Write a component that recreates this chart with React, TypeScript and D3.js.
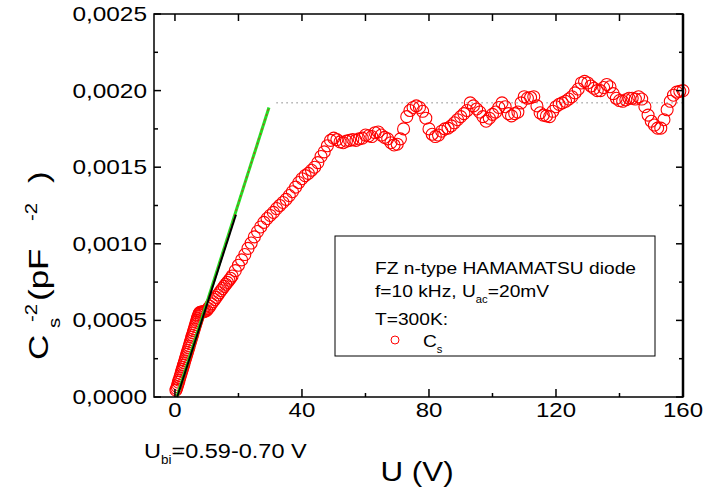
import React from "react";
import * as d3 from "d3";

// ---------- data (C_s^-2 in units of 1e-4 pF^-2, U in V) ----------
const voltage = [
  0.3, 0.5, 0.7, 0.9, 1.1, 1.3, 1.5, 1.7, 1.9, 2.1, 2.3, 2.5, 2.7, 2.9, 3.1, 3.3, 3.5, 3.7, 3.9,
  4.1, 4.3, 4.5, 4.7, 4.9, 5.1, 5.3, 5.5, 5.7, 5.9, 6.1, 6.3, 6.5, 6.7, 6.9, 7.1, 7.3, 7.5, 7.7,
  7.9, 8.3, 8.7, 9.1, 9.5,
  10, 10.5, 11, 11.5, 12, 12.5, 13, 13.5, 14, 14.5, 15, 15.5, 16, 16.5, 17, 17.5, 18,
  19, 20, 21, 22, 23, 24, 25, 26, 27, 28, 29, 30, 31, 32, 33, 34, 35, 36, 37, 38, 39, 40,
  41, 42, 43, 44, 45, 46, 47, 48, 49, 50, 51, 52, 53, 54, 55, 56, 57, 58, 59, 60,
  61, 62, 63, 64, 65, 66, 67, 68, 69, 70, 71, 72, 73, 74, 75, 76, 77, 78, 79, 80,
  81, 82, 83, 84, 85, 86, 87, 88, 89, 90, 91, 92, 93, 94, 95, 96, 97, 98, 99, 100,
  101, 102, 103, 104, 105, 106, 107, 108, 109, 110, 111, 112, 113, 114, 115, 116, 117, 118, 119, 120,
  121, 122, 123, 124, 125, 126, 127, 128, 129, 130, 131, 132, 133, 134, 135, 136, 137, 138, 139, 140,
  141, 142, 143, 144, 145, 146, 147, 148, 149, 150, 151, 152, 153, 154, 155, 156, 157, 158, 159, 160,
];
const invCapSq = [
  0.45, 0.55, 0.68, 0.82, 0.97, 1.1, 1.25, 1.38, 1.52, 1.67, 1.8, 1.94, 2.08, 2.22, 2.36, 2.5, 2.63, 2.78, 2.92,
  3.05, 3.2, 3.33, 3.48, 3.62, 3.75, 3.9, 4.03, 4.18, 4.32, 4.45, 4.6, 4.73, 4.87, 5.0, 5.14, 5.27, 5.38, 5.47,
  5.53, 5.55, 5.56, 5.57, 5.6,
  5.65, 5.78, 5.92, 6.08, 6.22, 6.36, 6.5, 6.66, 6.8, 6.95, 7.08, 7.22, 7.36, 7.48, 7.62, 7.75, 7.9,
  8.25, 8.6, 8.95, 9.3, 9.7, 10.05, 10.45, 10.8, 11.1, 11.4, 11.65, 11.85, 12.05, 12.3, 12.5, 12.7, 12.9, 13.15, 13.4, 13.7, 14.0, 14.25,
  14.45, 14.6, 14.8, 15.0, 15.3, 15.7, 16.0, 16.4, 16.75, 16.9, 16.8, 16.65, 16.6, 16.7, 16.75, 16.8, 16.75, 16.85, 16.9, 17.1,
  17.05, 17.0, 17.25, 17.3, 17.1, 16.95, 16.85, 16.6, 16.45, 16.5, 16.85, 17.5, 18.3, 18.7, 18.9, 19.0, 18.9, 18.65, 18.2, 17.5,
  17.15, 17.0, 17.1, 17.35, 17.5, 17.55, 17.7, 17.9, 18.1, 18.3, 18.5, 18.7, 19.2, 19.0, 18.8, 18.6, 18.3, 18.0, 18.2, 18.45,
  18.6, 18.9, 19.2, 18.95, 18.5, 18.35, 18.5, 18.6, 19.2, 19.6, 19.5, 19.55, 19.6, 19.0, 18.55, 18.4, 18.35, 18.3, 18.65, 18.95,
  19.1, 19.2, 19.3, 19.45, 19.6, 19.85, 20.1, 20.5, 20.6, 20.5, 20.3, 20.15, 20.0, 20.0, 20.2, 20.4, 20.25, 19.8, 19.5, 19.35,
  19.3, 19.4, 19.5, 19.5, 19.45, 19.6, 19.45, 18.95, 18.4, 18.0, 17.75, 17.55, 17.55, 18.1, 18.75, 19.3, 19.7, 19.9, 19.95, 20.0,
];

// linear fits and saturation level: [U, C^-2]
const greenFitU = [0.59, 29.6];
const greenFitC = [0, 18.9];
const blackFitU = [0.7, 19.2];
const blackFitC = [0, 11.9];
const plateauU = [32, 160];
const plateauC = [19.2, 19.2];

const xMajorTicks = [0, 40, 80, 120, 160];
const xMinorTicks = [20, 60, 100, 140];
const xTopTicks = [0, 20, 40, 60, 80, 100, 120, 140, 160];
const yMajorTicks = [0, 5, 10, 15, 20, 25];
const yMinorTicks = [2.5, 7.5, 12.5, 17.5, 22.5];
const yTickLabels = ["0,0000", "0,0005", "0,0010", "0,0015", "0,0020", "0,0025"];

const FONT = "'Liberation Sans', Arial, Helvetica, sans-serif";

function SText(props: any) {
  const { x, y, sx = 1.15, rot = 0, anchor = "start", size, children, fill = "#000" } = props;
  return (
    <text
      transform={`translate(${x},${y}) rotate(${rot}) scale(${sx},1)`}
      textAnchor={anchor}
      fontSize={size}
      fontFamily={FONT}
      fill={fill}
    >
      {children}
    </text>
  );
}

export default function App() {
  const W = 707;
  const H = 491;
  const left = 154, right = 683, top = 14, bottom = 397;
  const xs = d3.scaleLinear().domain([-6.6, 160]).range([left, right]);
  const ys = d3.scaleLinear().domain([0, 25]).range([bottom, top]);
  const line = d3
    .line<[number, number]>()
    .x((d) => xs(d[0]))
    .y((d) => ys(d[1]));

  const pts = voltage.map((u, i) => [u, invCapSq[i]] as [number, number]);
  const green = greenFitU.map((u, i) => [u, greenFitC[i]] as [number, number]);
  const black = blackFitU.map((u, i) => [u, blackFitC[i]] as [number, number]);
  const plateau = plateauU.map((u, i) => [u, plateauC[i]] as [number, number]);

  return (
    <svg
      width={W}
      height={H}
      style={{ position: "absolute", left: 0, top: 0, background: "#fff" }}
    >
      <rect x={0} y={0} width={W} height={H} fill="#fff" />
      {/* plateau dotted line */}
      <path d={line(plateau) || ""} stroke="#444" strokeWidth={1} strokeDasharray="1,4" fill="none" />
      {/* data */}
      {pts.map((p, i) => (
        <circle key={i} cx={xs(p[0])} cy={ys(p[1])} r={6} fill="none" stroke="#ff0000" strokeWidth={1.1} />
      ))}
      {/* fits */}
      <path d={line(green) || ""} stroke="#22e022" strokeWidth={3} fill="none" />
      <path d={line(green) || ""} stroke="#e02020" strokeWidth={1} strokeDasharray="2,3" fill="none" />
      <path d={line(black) || ""} stroke="#000" strokeWidth={2} fill="none" />

      {/* frame */}
      <rect x={left} y={top} width={right - left} height={bottom - top} fill="none" stroke="#000" strokeWidth={1.5} />
      <line x1={right} x2={right} y1={top} y2={bottom} stroke="#000" strokeWidth={2.5} />

      {/* ticks */}
      {xMajorTicks.map((t) => (
        <line key={"xb" + t} x1={xs(t)} x2={xs(t)} y1={bottom} y2={bottom - 8} stroke="#000" strokeWidth={1.5} />
      ))}
      {xMinorTicks.map((t) => (
        <line key={"xm" + t} x1={xs(t)} x2={xs(t)} y1={bottom} y2={bottom - 4} stroke="#000" strokeWidth={1.5} />
      ))}
      {xTopTicks.map((t) => (
        <line key={"xt" + t} x1={xs(t)} x2={xs(t)} y1={top} y2={top + 7} stroke="#000" strokeWidth={1.5} />
      ))}
      {yMajorTicks.map((t) => (
        <g key={"y" + t}>
          <line x1={left} x2={left + 7} y1={ys(t)} y2={ys(t)} stroke="#000" strokeWidth={1.5} />
          <line x1={right} x2={right - 7} y1={ys(t)} y2={ys(t)} stroke="#000" strokeWidth={1.5} />
        </g>
      ))}
      {yMinorTicks.map((t) => (
        <g key={"ym" + t}>
          <line x1={left} x2={left + 4} y1={ys(t)} y2={ys(t)} stroke="#000" strokeWidth={1.5} />
          <line x1={right} x2={right - 4} y1={ys(t)} y2={ys(t)} stroke="#000" strokeWidth={1.5} />
        </g>
      ))}

      {/* tick labels */}
      {yMajorTicks.map((t, i) => (
        <SText key={"yl" + t} x={147} y={ys(t) + 7} size={20} sx={1.22} anchor="end">
          {yTickLabels[i]}
        </SText>
      ))}
      {xMajorTicks.map((t) => (
        <SText key={"xl" + t} x={xs(t)} y={417} size={20} sx={1.2} anchor="middle">
          {String(t)}
        </SText>
      ))}

      {/* axis titles */}
      <SText x={417} y={481} size={28} sx={1.12} anchor="middle">U (V)</SText>
      <SText x={48} y={360} size={28} sx={1.25} rot={-90}>C</SText>
      <SText x={60} y={328} size={17} sx={1.2} rot={-90}>s</SText>
      <SText x={37} y={322} size={17} sx={1.2} rot={-90}>-2</SText>
      <SText x={48} y={301} size={28} sx={1.25} rot={-90}>(pF</SText>
      <SText x={37} y={221} size={17} sx={1.2} rot={-90}>-2</SText>
      <SText x={48} y={183} size={28} sx={1.25} rot={-90}>)</SText>

      {/* U_bi annotation */}
      <text transform="translate(144,458) scale(1.12,1)" fontSize={21} fontFamily={FONT}>
        U<tspan fontSize={12} dy={6}>bi</tspan>
        <tspan fontSize={21} dy={-6}>=0.59-0.70 V</tspan>
      </text>

      {/* legend */}
      <rect x={335} y={236} width={320} height={120} fill="#fff" stroke="#000" strokeWidth={1} />
      <SText x={375} y={274} size={17} sx={1.13}>FZ n-type HAMAMATSU diode</SText>
      <text transform="translate(375,297) scale(1.13,1)" fontSize={17} fontFamily={FONT}>
        f=10 kHz, U<tspan fontSize={10} dy={6}>ac</tspan>
        <tspan fontSize={17} dy={-6}>=20mV</tspan>
      </text>
      <SText x={375} y={325} size={17} sx={1.13}>T=300K:</SText>
      <circle cx={395} cy={340} r={4} fill="none" stroke="#ff0000" strokeWidth={1} />
      <text transform="translate(423,347) scale(1.13,1)" fontSize={17} fontFamily={FONT}>
        C<tspan fontSize={10} dy={6}>s</tspan>
      </text>
    </svg>
  );
}
